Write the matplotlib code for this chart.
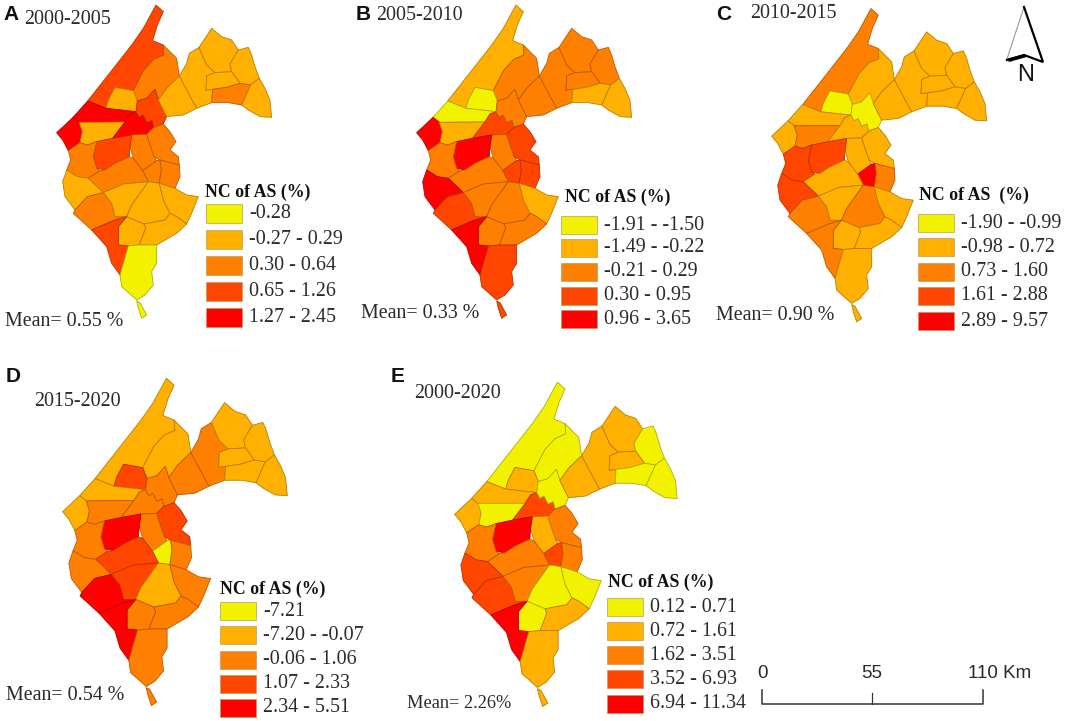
"""Net change of AS maps, five periods."""
import matplotlib as mpl
mpl.use('Agg')
import matplotlib.pyplot as plt
from matplotlib.colors import to_rgb
from matplotlib.patches import Polygon, Rectangle

SERIF = 'Liberation Serif'
SANS = 'Liberation Sans'
INK = '#2a2a2a'
CLASS_COLORS = ['#f2f200', '#ffb000', '#ff7f00', '#ff4500', '#ff0000']

# district outlines at 3x (x, y)
r1 = [(468,15),(490,35),(472,75),(458,122),(490,135),(492,165),(462,178),(432,210),(400,272),(345,262),(325,300),(318,325),(263,303),(330,218),(395,135),(430,85)]
r2 = [(490,135),(530,175),(538,228),(500,265),(475,300),(465,268),(440,295),(412,303),(400,272),(432,210),(462,178),(492,165)]
r3 = [(345,262),(400,272),(412,303),(408,335),(318,325),(325,300)]
r4 = [(219,352),(263,303),(318,325),(408,335),(390,342),(375,366),(238,367)]
r5 = [(170,398),(219,352),(238,367),(247,395),(240,428),(205,452),(188,420)]
r6 = [(238,367),(375,366),(338,415),(290,425),(262,435),(240,428),(247,395)]
r7 = [(390,342),(408,335),(417,352),(429,345),(441,368),(456,361),(461,383),(440,403),(395,405),(338,415),(375,366)]
r8 = [(412,303),(440,295),(465,268),(475,300),(500,350),(490,372),(461,383),(456,361),(441,368),(429,345),(417,352),(408,335)]
r9 = [(538,228),(590,325),(550,345),(500,350),(475,300),(500,265)]
r10 = [(538,228),(560,190),(568,160),(597,142),(620,195),(645,218),(620,228),(618,270),(638,268),(635,308),(590,325)]
r11 = [(597,142),(635,85),(665,110),(695,120),(715,150),(690,192),(695,215),(645,218),(620,195)]
r12 = [(715,150),(745,142),(755,165),(765,200),(778,235),(752,255),(720,250),(695,215),(690,192)]
r13 = [(620,228),(645,218),(695,215),(720,250),(680,262),(638,268),(618,270)]
r14 = [(638,268),(680,262),(720,250),(752,255),(725,315),(685,308),(635,308)]
r15 = [(752,255),(778,235),(795,265),(810,300),(815,352),(780,350),(745,330),(725,315)]
r16 = [(490,372),(510,395),(528,425),(510,450),(535,470),(538,495),(480,480),(462,470),(445,420),(440,403),(461,383)]
r17 = [(395,405),(440,403),(445,420),(462,470),(470,482),(428,512),(400,475),(390,440)]
r18 = [(338,415),(395,405),(390,440),(388,470),(345,490),(315,510),(290,505),(280,470),(290,425)]
r19 = [(205,452),(240,428),(262,435),(290,425),(280,470),(290,505),(300,512),(265,535),(232,530),(200,510),(212,480)]
r20 = [(470,482),(480,480),(484,510),(478,550),(445,545),(428,512)]
r21 = [(480,480),(538,495),(540,530),(525,565),(478,550),(484,510)]
r22 = [(300,512),(315,510),(345,490),(388,470),(400,475),(428,512),(445,545),(370,552),(310,578),(265,535)]
r23 = [(200,510),(232,530),(265,535),(310,578),(262,590),(225,630),(195,590),(188,545)]
r24 = [(262,590),(310,578),(335,610),(345,650),(380,650),(340,662),(275,690),(220,640),(225,630)]
r25 = [(310,578),(370,552),(445,545),(395,615),(380,650),(345,650),(335,610)]
r26 = [(445,545),(478,550),(490,600),(510,640),(495,660),(432,672),(380,650),(395,615)]
r27 = [(478,550),(525,565),(560,585),(595,590),(575,640),(560,672),(530,650),(510,640),(490,600)]
r28 = [(380,650),(432,672),(437,685),(418,735),(385,738),(355,735),(355,680)]
r29 = [(432,672),(495,660),(510,640),(530,650),(560,672),(530,700),(470,735),(418,735),(437,685)]
r30 = [(275,690),(340,662),(380,650),(355,680),(355,735),(385,738),(360,825),(335,790),(320,740)]
r31 = [(385,738),(418,735),(470,735),(470,790),(455,815),(460,855),(435,885),(410,900),(365,860),(360,825)]
r32 = [(410,903),(420,908),(440,945),(425,955),(415,925)]
districts = [r1,r2,r3,r4,r5,r6,r7,r8,r9,r10,r11,r12,r13,r14,r15,r16,r17,r18,r19,r20,r21,r22,r23,r24,r25,r26,r27,r28,r29,r30,r31,r32]

# class of each district per period
classes_a = [3,2,1,4,4,1,4,3,1,1,1,1,1,2,1,2,2,3,2,2,2,2,1,2,1,1,1,1,1,3,0,0]
classes_b = [1,2,0,0,4,1,3,2,2,2,2,2,2,1,1,3,2,4,2,3,3,2,4,3,2,2,1,2,2,4,3,3]
classes_c = [2,1,0,1,1,2,1,0,1,1,1,1,1,1,1,1,1,3,3,4,2,1,3,2,1,2,1,1,1,2,1,1]
classes_d = [1,1,3,1,1,2,2,2,2,2,1,1,1,1,1,3,2,4,2,0,2,3,2,4,3,1,2,2,2,4,2,2]
classes_e = [0,0,1,1,1,0,3,0,1,1,1,0,1,0,0,2,1,4,2,3,2,2,3,3,2,0,0,0,1,4,1,1]

labels_a = ['-0.28', '-0.27 - 0.29', '0.30 - 0.64', '0.65 - 1.26', '1.27 - 2.45']
labels_b = ['-1.91 - -1.50', '-1.49 - -0.22', '-0.21 - 0.29', '0.30 - 0.95', '0.96 - 3.65']
labels_c = ['-1.90 - -0.99', '-0.98 - 0.72', '0.73 - 1.60', '1.61 - 2.88', '2.89 - 9.57']
labels_d = ['-7.21', '-7.20 - -0.07', '-0.06 - 1.06', '1.07 - 2.33', '2.34 - 5.51']
labels_e = ['0.12 - 0.71', '0.72 - 1.61', '1.62 - 3.51', '3.52 - 6.93', '6.94 - 11.34']

panels = [
    dict(letter='A', lxy=(3,14), period='2000-2005', pxy=(24,20), mean='Mean= 0.55 %', mxy=(5,322), mfs=14.4,
         classes=classes_a, labels=labels_a, scale=1.0, off=(0,0), sx=206, sy=[204,230,256,282,308], sh=19, title='NC of AS (%)', txy=(205,192)),
    dict(letter='B', lxy=(356,14), period='2005-2010', pxy=(376,15), mean='Mean= 0.33 %', mxy=(361,314), mfs=14.4,
         classes=classes_b, labels=labels_b, scale=1.0, off=(360,0), sx=561, sy=[216,239,263,287,310], sh=18, title='NC of AS (%)', txy=(565,197)),
    dict(letter='C', lxy=(716,14), period='2010-2015', pxy=(750,14), mean='Mean= 0.90 %', mxy=(716,316), mfs=14.4,
         classes=classes_c, labels=labels_c, scale=1.0, off=(715,3.5), sx=918, sy=[214,238,263,287,312], sh=18, title='NC of AS  (%)', txy=(919,195)),
    dict(letter='D', lxy=(6,377), period='2015-2020', pxy=(34,401), mean='Mean= 0.54 %', mxy=(6,696), mfs=14.4,
         classes=classes_d, labels=labels_d, scale=1.045, off=(3.4,373), sx=220, sy=[602,626,651,675,699], sh=18, title='NC of AS (%)', txy=(220,589)),
    dict(letter='E', lxy=(391,377), period='2000-2020', pxy=(414,393), mean='Mean= 2.26%', mxy=(407,703), mfs=13.2,
         classes=classes_e, labels=labels_e, scale=1.035, off=(396,377), sx=607, sy=[598,622,646,670,695], sh=18, title='NC of AS (%)', txy=(608,582)),
]


def darker(c, k=0.72):
    return tuple(v*k for v in to_rgb(c))


fig = plt.figure(figsize=(10.65, 7.21), dpi=100)
ax = fig.add_axes([0, 0, 1, 1])
ax.set_xlim(0, 1065)
ax.set_ylim(721, 0)
ax.axis('off')

for p in panels:
    s = p['scale']; ox, oy = p['off']
    for poly, c in zip(districts, p['classes']):
        pts = [(x/3*s+ox, y/3*s+oy) for x, y in poly]
        col = CLASS_COLORS[c]
        ax.add_patch(Polygon(pts, closed=True, fc=col, ec=darker(col), lw=0.6, joinstyle='round'))
    ax.text(*p['lxy'], p['letter'], family=SANS, fontweight='bold', fontsize=15, color='#111111', ha='left', va='center')
    ax.text(*p['pxy'], p['period'], family=SERIF, fontsize=14.4, color=INK, ha='left', va='center')
    ax.text(*p['mxy'], p['mean'], family=SERIF, fontsize=p['mfs'], color=INK, ha='left', va='center')
    ax.text(*p['txy'], p['title'], family=SERIF, fontweight='bold', fontsize=12.8, color='#111111', ha='left', va='center')
    for i, (y, lab) in enumerate(zip(p['sy'], p['labels'])):
        ax.add_patch(Rectangle((p['sx'], y), 36, p['sh'], fc=CLASS_COLORS[i], ec='#b0a060', lw=0.5))
        ax.text(p['sx']+43, y+p['sh']/2, lab, family=SERIF, fontsize=14.4, color=INK, ha='left', va='center')

# north arrow
ax.plot([1024,1007,1024], [7,59,55], color='#999999', lw=0.8)
ax.plot([1024,1043,1024,1007], [7,62,55,60], color='black', lw=1.6, solid_joinstyle='miter')
ax.plot([1010,1024], [60,56], color='black', lw=2.4)
ax.text(1025.5, 75, 'N', family=SANS, fontsize=17, color='#111111', ha='center', va='center')

# scale bar
ax.plot([762,762,983,983], [690,704,704,690], color='#333333', lw=1.1)
ax.plot([872,872], [693,704], color='#333333', lw=0.9)
ax.text(762, 673, '0', family=SANS, fontsize=13.5, color=INK, ha='center', va='center')
ax.text(872, 673, '55', family=SANS, fontsize=13.5, color=INK, ha='center', va='center')
ax.text(968, 673, '110 Km', family=SANS, fontsize=13.5, color=INK, ha='left', va='center')

fig.savefig('out.png', dpi=100, facecolor='white')
